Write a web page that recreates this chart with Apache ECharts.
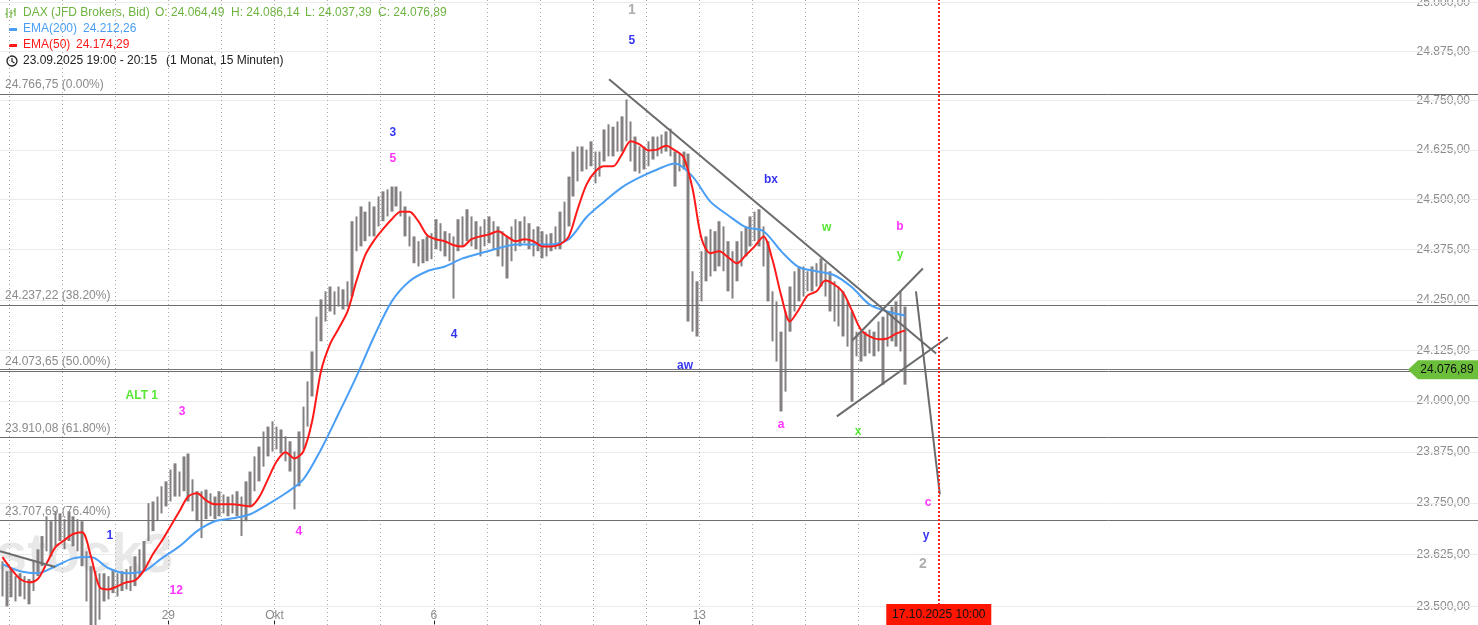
<!DOCTYPE html>
<html><head><meta charset="utf-8">
<script src="https://cdn.jsdelivr.net/npm/echarts@6/dist/echarts.min.js"></script>
<style>html,body{margin:0;padding:0;background:#fff}#c{width:1478px;height:625px}</style>
</head><body><div id="c"></div>
<script>
// time unit: trading days counted from 24.09.2025 (0 = 24.09, 3 = 29.09, 5 = 01.10, 8 = 06.10, 13 = 13.10)
const dayGridLines = [0,1,2,3,4,5,6,7,8,9,10,11,12,13,14,15,16];
const xLabelDays = [3,5,8,13];
const xLabelTexts = ['29','Okt','6','13'];
const barStartDay = -0.125;
const barsPerDay = 12;

const highs = [23609,23585,23590,23573,23580,23573,23566,23609,23638,23670,
23718,23706,23730,23725,23711,23730,23718,23711,23706,23633,
23597,23585,23580,23580,23573,23590,23580,23585,23590,23597,
23621,23638,23658,23750,23754,23766,23791,23803,23832,23847,
23827,23864,23871,23808,23779,23779,23783,23774,23766,23779,
23771,23766,23771,23779,23766,23803,23827,23864,23888,23925,
23937,23950,23937,23930,23913,23901,23876,23925,23986,24048,
24122,24208,24251,24271,24283,24271,24283,24276,24296,24446,
24458,24483,24470,24495,24483,24508,24521,24526,24533,24533,
24521,24483,24458,24408,24396,24401,24408,24416,24451,24441,
24421,24416,24408,24451,24458,24476,24458,24446,24433,24451,
24458,24446,24433,24421,24408,24433,24451,24446,24458,24441,
24426,24433,24421,24413,24416,24433,24470,24495,24558,24621,
24634,24634,24626,24647,24621,24621,24677,24690,24684,24697,
24710,24753,24697,24659,24634,24634,24647,24659,24659,24664,
24672,24679,24621,24616,24621,24616,24321,24296,24371,24408,
24426,24421,24446,24433,24396,24371,24396,24421,24433,24458,
24470,24476,24433,24396,24271,24246,24171,24221,24283,24321,
24333,24333,24321,24333,24341,24353,24341,24321,24296,24283,
24271,24246,24221,24171,24171,24171,24176,24171,24196,24208,
24221,24233,24246,24271,24233];
const lows = [23524,23500,23522,23512,23524,23517,23505,23537,23573,23597,
23633,23621,23645,23658,23638,23658,23645,23633,23597,23512,
23451,23451,23468,23512,23517,23532,23524,23537,23541,23537,
23549,23573,23585,23658,23682,23706,23725,23742,23754,23766,
23766,23779,23754,23730,23706,23665,23711,23718,23711,23718,
23725,23718,23725,23718,23670,23706,23742,23779,23803,23839,
23864,23876,23881,23871,23852,23827,23735,23791,23881,23937,
24011,24073,24147,24196,24221,24213,24233,24226,24233,24258,
24371,24383,24396,24408,24408,24433,24446,24458,24470,24483,
24458,24408,24383,24341,24333,24341,24346,24351,24376,24371,
24358,24346,24253,24371,24383,24396,24383,24376,24358,24383,
24391,24376,24358,24333,24303,24346,24371,24383,24391,24376,
24358,24371,24353,24358,24371,24376,24376,24396,24433,24508,
24546,24571,24576,24584,24541,24558,24596,24609,24609,24621,
24621,24647,24596,24571,24566,24576,24584,24601,24609,24616,
24621,24609,24533,24571,24576,24196,24171,24159,24246,24296,
24308,24321,24333,24321,24271,24253,24296,24333,24358,24383,
24396,24383,24333,24246,24147,24097,23974,24023,24171,24221,
24246,24258,24271,24271,24283,24283,24258,24221,24196,24184,
24159,24134,23998,24110,24097,24110,24117,24110,24122,24040,
24134,24147,24134,24122,24040];

const ema200Step = 4;
const ema200 = [23602,23585,23580,23597,23616,23619,23592,23580,23585,23616,
23645,23682,23706,23713,23723,23747,23774,23808,23881,23969,
24060,24159,24246,24296,24321,24333,24353,24366,24378,24388,
24388,24388,24401,24456,24495,24531,24556,24576,24591,24558,
24495,24461,24431,24421,24371,24331,24321,24311,24281,24238,
24221,24211];
const ema50Step = 2;
const ema50 = [23619,23590,23566,23558,23566,23604,23643,23660,23675,23679,
23621,23546,23541,23549,23558,23563,23587,23626,23658,23694,
23730,23766,23774,23757,23747,23747,23747,23745,23742,23764,
23808,23852,23874,23859,23876,23950,24073,24139,24179,24221,
24296,24361,24398,24426,24451,24470,24470,24446,24411,24401,
24396,24386,24383,24401,24408,24413,24421,24408,24396,24401,
24396,24383,24383,24388,24408,24476,24538,24571,24584,24584,
24614,24647,24639,24624,24626,24636,24624,24606,24526,24403,
24366,24371,24356,24341,24361,24383,24408,24351,24261,24196,
24226,24261,24271,24298,24288,24268,24223,24176,24159,24152,
24154,24166,24174];

const priceTicks = [25000,24875,24750,24625,24500,24375,24250,24125,24000,23875,23750,23625,23500];
const fibLevels = [24766.75,24237.22,24073.65,23910.08,23707.69];
const fibPercents = ['0.00%','38.20%','50.00%','61.80%','76.40%'];
const lastPrice = 24076.89;
const crosshairDay = 17.51;
const crosshairText = '17.10.2025 10:00';

const waveTexts  = ['1','5','3','5','4','ALT 1','3','1','4','12','aw','bx','a','w','x','b','y','c','y','2'];
const waveDays   = [11.73,11.73,7.23,7.23,8.38,2.50,3.26,1.90,5.46,3.15,12.73,14.35,14.54,15.40,15.99,16.78,16.78,17.31,17.27,17.21];
const wavePrices = [24980,24903,24669,24604,24164,24014,23974,23670,23680,23539,24088,24551,23942,24431,23925,24433,24363,23750,23670,23602];
const waveKinds  = ['grey','blue','blue','mag','blue','green','mag','blue','mag','mag','blue','blue','mag','green','green','mag','green','mag','blue','grey'];

const trendFrom = [[11.30,24804],[-0.17,23633],[15.88,24149],[15.59,23962],[17.08,24271]];
const trendTo   = [[17.46,24117],[0.87,23595],[17.21,24328],[17.68,24157],[17.53,23771]];

// view window
const viewStartDay = -0.17, viewEndDay = 27.665;
const viewTopPrice = 25006.4, viewBottomPrice = 23455.3;

// logarithmic price scale: plotted value = 10000 * ln(price / 23500)
const LOG_REF = 23500, LOG_MUL = 10000;
const Y = p => LOG_MUL*Math.log(p/LOG_REF);
const P = v => LOG_REF*Math.exp(v/LOG_MUL);
function de(v){const s=v.toFixed(2).split('.');return s[0].replace(/\B(?=(\d{3})+(?!\d))/g,'.')+','+s[1];}
const FONT = '"Liberation Sans", Arial, sans-serif';
const kindColor = {grey:'#999999', blue:'#0000f0', mag:'#ff00ff', green:'#2de000'};

const candleData = highs.map((h,i)=>[barStartDay+i/barsPerDay, Y(lows[i]), Y(h), Y(lows[i]), Y(h)]);
const ema200Data = ema200.map((v,k)=>[barStartDay+k*ema200Step/barsPerDay, Y(v)]);
const ema50Data = ema50.map((v,j)=>[barStartDay+j*ema50Step/barsPerDay, Y(v)]);

function hLine(p, extra){
  return [Object.assign({coord:[viewStartDay, Y(p)]}, extra||{}), {coord:[viewEndDay, Y(p)]}];
}
function vLine(d, extra){
  return [Object.assign({coord:[d, Y(viewBottomPrice)]}, extra||{}), {coord:[d, Y(viewTopPrice)]}];
}

const gridLinesML = priceTicks.map(p=>hLine(p,{lineStyle:{color:'#ebebeb',width:1,type:'solid'}}))
  .concat(dayGridLines.map(d=>vLine(d,{lineStyle:{color:'#a8a8a8',width:1,type:[1,3]}})));

const fibML = fibLevels.map((p,i)=>hLine(p,{label:{show:true, position:'insideStartTop', formatter: de(p)+' ('+fibPercents[i]+')', color:'#8a8a8a', fontSize:12, fontFamily:FONT, distance:[5,3]}, lineStyle:{color:'#6e6e6e',width:1,type:'solid'}}));
fibML.push(hLine(lastPrice,{label:{show:false}, lineStyle:{color:'#777',width:1,type:'solid'}}));

const trendML = trendFrom.map((f,i)=>[{coord:[f[0],Y(f[1])]},{coord:[trendTo[i][0],Y(trendTo[i][1])]}]);

const waveData = waveTexts.map((t,i)=>({
  value:[waveDays[i], Y(wavePrices[i])],
  itemStyle:{color:'#ffffff'},
  label:{show:true, formatter:t, color:kindColor[waveKinds[i]], fontSize: waveKinds[i]==='grey'?14:12, fontWeight:'bold', fontFamily:FONT, position:'inside'}
}));

const chart = echarts.init(document.getElementById('c'), null, {renderer:'canvas'});
chart.setOption({
  animation:false,
  backgroundColor:'#fff',
  grid:{left:0,right:0,top:0,bottom:0,containLabel:false,outerBoundsMode:'none'},
  xAxis:{type:'value', min:viewStartDay, max:viewEndDay, position:'bottom',
    axisLine:{show:false, onZero:false}, splitLine:{show:false},
    axisTick:{show:true, inside:true, length:4, lineStyle:{color:'#222'}, customValues:xLabelDays},
    axisLabel:{show:true, inside:true, margin:3, color:'#8a8a8a', fontSize:12, fontFamily:FONT,
      customValues:xLabelDays, formatter:v=>{const i=xLabelDays.indexOf(Math.round(v));return i>=0?xLabelTexts[i]:'';}}},
  yAxis:{type:'value', min:Y(viewBottomPrice), max:Y(viewTopPrice), position:'right',
    axisLine:{show:false, onZero:false}, splitLine:{show:false},
    axisTick:{show:true, inside:true, length:5, lineStyle:{color:'#222'}, customValues:priceTicks.map(Y)},
    axisLabel:{show:true, inside:true, margin:8, color:'#8a8a8a', fontSize:12, fontFamily:FONT,
      customValues:priceTicks.map(Y), formatter:v=>de(Math.round(P(v)*100)/100)}},
  graphic:[
    {type:'text', x:-4, y:557, z:-5, style:{text:'stock3', fill:'rgba(0,0,0,0.09)', font:'bold 56px '+FONT, verticalAlign:'middle'}},
    {type:'group', z:100, children:[
      {type:'line', shape:{x1:7,y1:8,x2:7,y2:18}, style:{stroke:'#6db33f',lineWidth:1.2}},
      {type:'line', shape:{x1:11,y1:10,x2:11,y2:18}, style:{stroke:'#6db33f',lineWidth:1.2}},
      {type:'line', shape:{x1:15,y1:8,x2:15,y2:16}, style:{stroke:'#6db33f',lineWidth:1.2}},
      {type:'line', shape:{x1:5,y1:14,x2:7,y2:14}, style:{stroke:'#6db33f',lineWidth:1.2}},
      {type:'line', shape:{x1:11,y1:13,x2:13,y2:13}, style:{stroke:'#6db33f',lineWidth:1.2}},
      {type:'line', shape:{x1:13,y1:11,x2:15,y2:11}, style:{stroke:'#6db33f',lineWidth:1.2}},
      {type:'text', x:23, y:13, style:{text:'DAX (JFD Brokers, Bid)', fill:'#6db33f', font:'12px '+FONT, verticalAlign:'middle'}},
      {type:'text', x:155, y:13, style:{text:'O: 24.064,49', fill:'#6db33f', font:'12px '+FONT, verticalAlign:'middle'}},
      {type:'text', x:231, y:13, style:{text:'H: 24.086,14', fill:'#6db33f', font:'12px '+FONT, verticalAlign:'middle'}},
      {type:'text', x:305, y:13, style:{text:'L: 24.037,39', fill:'#6db33f', font:'12px '+FONT, verticalAlign:'middle'}},
      {type:'text', x:378, y:13, style:{text:'C: 24.076,89', fill:'#6db33f', font:'12px '+FONT, verticalAlign:'middle'}},
      {type:'rect', shape:{x:9,y:28,width:8,height:3}, style:{fill:'#4a9ff5'}},
      {type:'text', x:23, y:29, style:{text:'EMA(200)', fill:'#4a9ff5', font:'12px '+FONT, verticalAlign:'middle'}},
      {type:'text', x:83, y:29, style:{text:'24.212,26', fill:'#4a9ff5', font:'12px '+FONT, verticalAlign:'middle'}},
      {type:'rect', shape:{x:9,y:44,width:8,height:3}, style:{fill:'#ff1a1a'}},
      {type:'text', x:23, y:45, style:{text:'EMA(50)', fill:'#ff1a1a', font:'12px '+FONT, verticalAlign:'middle'}},
      {type:'text', x:76, y:45, style:{text:'24.174,29', fill:'#ff1a1a', font:'12px '+FONT, verticalAlign:'middle'}},
      {type:'circle', shape:{cx:12,cy:61,r:5}, style:{fill:'#fff',stroke:'#222',lineWidth:1.3}},
      {type:'polyline', shape:{points:[[12,58],[12,61.5],[14.5,63]]}, style:{stroke:'#222',lineWidth:1.2,fill:null}},
      {type:'text', x:23, y:61, style:{text:'23.09.2025 19:00 - 20:15', fill:'#222', font:'12px '+FONT, verticalAlign:'middle'}},
      {type:'text', x:166, y:61, style:{text:'(1 Monat, 15 Minuten)', fill:'#222', font:'12px '+FONT, verticalAlign:'middle'}}
    ]}
  ],
  series:[
    {type:'line', name:'EMA(200)', z:4, data:ema200Data, showSymbol:false, smooth:0.3,
      lineStyle:{color:'#4a9ff5', width:2}, itemStyle:{color:'#4a9ff5'},
      markLine:{silent:true, z:1, symbol:['none','none'], label:{show:false}, data:gridLinesML}},
    {type:'candlestick', name:'DAX', z:2, data:candleData, barWidth:3,
      dimensions:['t','open','close','low','high'], encode:{x:0, y:[1,2,3,4]},
      itemStyle:{color:'#858080', color0:'#858080', borderColor:'#858080', borderColor0:'#858080', borderWidth:0}},
    {type:'line', name:'EMA(50)', z:5, data:ema50Data, showSymbol:false, smooth:0.3,
      lineStyle:{color:'#ff1a1a', width:2}, itemStyle:{color:'#ff1a1a'},
      markLine:{silent:true, z:3, symbol:['none','none'], data:fibML}},
    {type:'scatter', name:'waves', z:8, data:waveData, symbolSize:1,
      markLine:{silent:true, z:7, symbol:['none','none'], label:{show:false},
        lineStyle:{color:'#6b6b6b', width:2, type:'solid'},
        data: trendML.concat([vLine(crosshairDay,{lineStyle:{color:'#ff2020', width:2, type:[2,2]}})])},
      markPoint:{silent:true, z:9, data:[
        {coord:[crosshairDay, Y(viewBottomPrice)], symbol:'rect', symbolSize:[105,21], symbolOffset:[0,-10.5],
          itemStyle:{color:'#ff1500'}, label:{show:true, position:'inside', formatter:crosshairText, color:'#111', fontSize:12, fontFamily:FONT}},
        {coord:[viewEndDay, Y(lastPrice)], symbol:'path://M0,10 L10,0 L70,0 L70,20 L10,20 Z', symbolKeepAspect:false, symbolSize:[70,19], symbolOffset:[-35,0],
          itemStyle:{color:'#6cbf3a'}, label:{show:true, position:'inside', offset:[4,0], formatter:de(lastPrice), color:'#111', fontSize:12, fontFamily:FONT}}
      ]}}
  ]
});
</script></body></html>
